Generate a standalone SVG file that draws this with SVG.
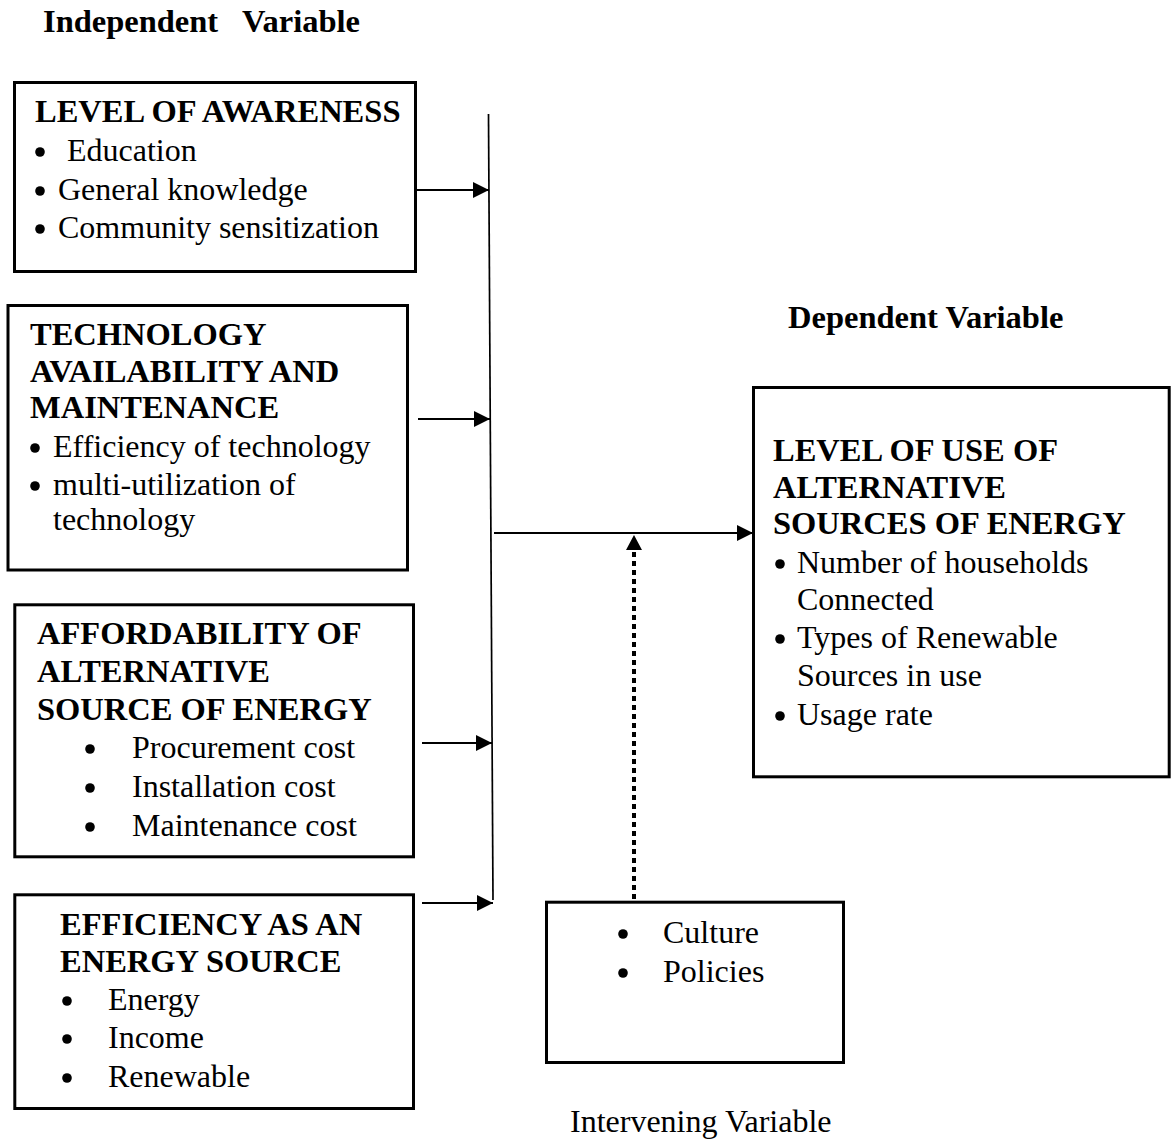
<svg xmlns="http://www.w3.org/2000/svg" width="1176" height="1140" viewBox="0 0 1176 1140">
<style>
text{font-family:"Liberation Serif","Times New Roman",serif;font-size:32px;fill:#000}
.b{font-weight:bold;font-size:32.5px}
.box{fill:none;stroke:#000;stroke-width:3}
.ln{stroke:#000;stroke-width:2.2;fill:none}
.dot{fill:#000}
</style>
<defs>
<marker id="ah" viewBox="0 0 16 16" refX="16" refY="8" markerWidth="16" markerHeight="16" markerUnits="userSpaceOnUse" orient="auto">
<path d="M0,0 L16,8 L0,16 Z" fill="#000"/>
</marker>
</defs>
<rect width="1176" height="1140" fill="#fff"/>
<g id="headings">
<text class="b" x="43" y="32">Independent</text>
<text class="b" x="242" y="32">Variable</text>
<text class="b" x="788" y="328">Dependent Variable</text>
<text x="570" y="1132">Intervening Variable</text>
</g>
<g id="awareness">
<rect class="box" x="14.5" y="82.5" width="401" height="189"/>
<text class="b" x="35" y="122">LEVEL OF AWARENESS</text>
<circle class="dot" cx="40" cy="152" r="4.8"/><text x="67" y="161">Education</text>
<circle class="dot" cx="40" cy="191" r="4.8"/><text x="58" y="200">General knowledge</text>
<circle class="dot" cx="40" cy="229" r="4.8"/><text x="58" y="238">Community sensitization</text>
</g>
<g id="technology">
<rect class="box" x="8" y="305.5" width="399.5" height="264.5"/>
<text class="b" x="30" y="345">TECHNOLOGY</text>
<text class="b" x="30" y="382">AVAILABILITY AND</text>
<text class="b" x="30" y="418">MAINTENANCE</text>
<circle class="dot" cx="35" cy="448" r="4.8"/><text x="53" y="457">Efficiency of technology</text>
<circle class="dot" cx="35" cy="486" r="4.8"/><text x="53" y="495">multi-utilization of</text>
<text x="53" y="530">technology</text>
</g>
<g id="affordability">
<rect class="box" x="14.8" y="604.8" width="398.7" height="252"/>
<text class="b" x="37" y="644">AFFORDABILITY OF</text>
<text class="b" x="37" y="682">ALTERNATIVE</text>
<text class="b" x="37" y="720">SOURCE OF ENERGY</text>
<circle class="dot" cx="90" cy="749" r="4.8"/><text x="132" y="758">Procurement cost</text>
<circle class="dot" cx="90" cy="788" r="4.8"/><text x="132" y="797">Installation cost</text>
<circle class="dot" cx="90" cy="827" r="4.8"/><text x="132" y="836">Maintenance cost</text>
</g>
<g id="efficiency">
<rect class="box" x="14.8" y="894.8" width="398.7" height="213.7"/>
<text class="b" x="60" y="935">EFFICIENCY AS AN</text>
<text class="b" x="60" y="972">ENERGY SOURCE</text>
<circle class="dot" cx="67" cy="1001" r="4.8"/><text x="108" y="1010">Energy</text>
<circle class="dot" cx="67" cy="1039" r="4.8"/><text x="108" y="1048">Income</text>
<circle class="dot" cx="67" cy="1078" r="4.8"/><text x="108" y="1087">Renewable</text>
</g>
<g id="dependent">
<rect class="box" x="753.5" y="387.5" width="415.7" height="389.3"/>
<text class="b" x="773" y="461">LEVEL OF USE OF</text>
<text class="b" x="773" y="498">ALTERNATIVE</text>
<text class="b" x="773" y="534">SOURCES OF ENERGY</text>
<circle class="dot" cx="780" cy="564" r="4.8"/><text x="797" y="573">Number of households</text>
<text x="797" y="610">Connected</text>
<circle class="dot" cx="780" cy="639" r="4.8"/><text x="797" y="648">Types of Renewable</text>
<text x="797" y="686">Sources in use</text>
<circle class="dot" cx="780" cy="716" r="4.8"/><text x="797" y="725">Usage rate</text>
</g>
<g id="intervening">
<rect class="box" x="546.5" y="902.2" width="297" height="160.3"/>
<circle class="dot" cx="623" cy="934" r="4.8"/><text x="663" y="943">Culture</text>
<circle class="dot" cx="623" cy="973" r="4.8"/><text x="663" y="982">Policies</text>
</g>
<g id="connectors">
<line x1="488.5" y1="114" x2="493" y2="900" stroke="#000" stroke-width="1.7"/>
<line class="ln" x1="417" y1="190" x2="489" y2="190" marker-end="url(#ah)"/>
<line class="ln" x1="418" y1="419" x2="490" y2="419" marker-end="url(#ah)"/>
<line class="ln" x1="422" y1="743" x2="492" y2="743" marker-end="url(#ah)"/>
<line class="ln" x1="422" y1="903" x2="493" y2="903" marker-end="url(#ah)"/>
<line class="ln" x1="494" y1="533" x2="753" y2="533" marker-end="url(#ah)"/>
<line x1="634" y1="899" x2="634" y2="549" stroke="#000" stroke-width="4" stroke-dasharray="5 4"/>
<path d="M634,535 L642,550 L626,550 Z" fill="#000"/>
</g>
</svg>
